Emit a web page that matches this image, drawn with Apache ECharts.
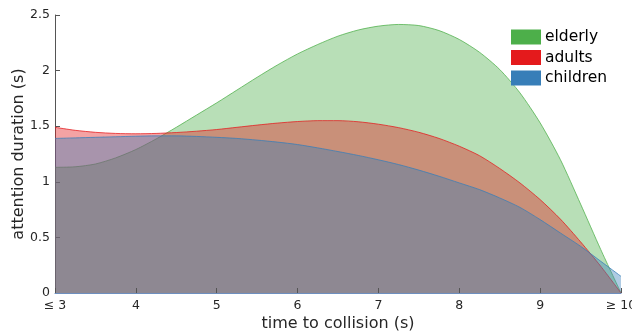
<!DOCTYPE html>
<html>
<head>
<meta charset="utf-8">
<script src="https://cdn.jsdelivr.net/npm/echarts@6/dist/echarts.min.js"></script>
<style>html,body{margin:0;padding:0;background:#fff}#c{width:632px;height:333px}</style>
</head>
<body>
<div id="c"></div>
<script>
const xValues = [3,3.25,3.5,3.75,4,4.25,4.5,4.75,5,5.25,5.5,5.75,6,6.25,6.5,6.75,7,7.25,7.5,7.75,8,8.25,8.5,8.75,9,9.25,9.5,9.75,10];
const elderly = [1.13,1.135,1.16,1.215,1.29,1.385,1.49,1.60,1.71,1.825,1.94,2.05,2.15,2.235,2.31,2.365,2.40,2.415,2.405,2.36,2.28,2.165,2.01,1.80,1.53,1.20,0.80,0.39,0];
const adults = [1.49,1.463,1.445,1.435,1.432,1.435,1.443,1.455,1.47,1.49,1.51,1.528,1.542,1.55,1.55,1.54,1.518,1.487,1.445,1.39,1.32,1.235,1.12,0.99,0.84,0.665,0.46,0.24,0];
const children = [1.39,1.395,1.40,1.405,1.41,1.413,1.413,1.408,1.40,1.39,1.375,1.357,1.335,1.305,1.272,1.237,1.198,1.155,1.105,1.05,0.99,0.93,0.855,0.77,0.66,0.54,0.42,0.285,0.15];
const seriesNames = ['elderly','adults','children'];
const seriesColors = ['#4daf4a','#e41a1c','#377eb8'];
const xTickLabels = {3:'≤ 3',10:'≥ 10'};
const yTickValues = [0,0.5,1,1.5,2,2.5];

const dataSets = [elderly, adults, children];
const FONT = 'DejaVu Sans';
const chart = echarts.init(document.getElementById('c'), null, {renderer:'canvas'});
chart.setOption({
  animation:false,
  textStyle:{fontFamily:FONT},
  grid:{left:55,right:11,top:15,bottom:40,containLabel:false,outerBoundsMode:'none'},
  legend:{
    orient:'vertical', left:511, top:29, padding:0, itemWidth:30, itemHeight:15, itemGap:4.5,
    icon:'rect',
    textStyle:{fontFamily:FONT,fontSize:15.5,color:'#000',padding:[0,0,0,-1]},
    data: seriesNames.map((n,i)=>({name:n,icon:'rect',itemStyle:{color:seriesColors[i],opacity:1,borderWidth:0}}))
  },
  xAxis:{
    type:'value', min:3, max:10, interval:1, z:5,
    name:'time to collision (s)', nameLocation:'middle', nameGap:23, nameMoveOverlap:false,
    nameTextStyle:{fontFamily:FONT,fontSize:16,color:'#262626'},
    axisLine:{show:true,lineStyle:{color:'#6d8fbf',width:1}},
    axisTick:{show:true,inside:true,length:5,lineStyle:{color:'#555'}},
    axisLabel:{fontFamily:FONT,fontSize:12.5,color:'#262626',margin:6,
      formatter:v=> (xTickLabels[v]!==undefined? xTickLabels[v] : String(v))},
    splitLine:{show:false}
  },
  yAxis:{
    type:'value', min:0, max:2.5, interval:0.5,
    name:'attention duration (s)', nameLocation:'middle', nameGap:28, nameMoveOverlap:false,
    nameTextStyle:{fontFamily:FONT,fontSize:16,color:'#262626'},
    axisLine:{show:true,lineStyle:{color:'#555',width:1}},
    axisTick:{show:true,inside:true,length:5,lineStyle:{color:'#555'}},
    axisLabel:{fontFamily:FONT,fontSize:12.5,color:'#262626',margin:5,
      formatter:v=> yTickValues.includes(v)? String(v):''},
    splitLine:{show:false}
  },
  series: seriesNames.map((n,i)=>({
    name:n, type:'line', smooth:0.25, symbol:'none',
    data: xValues.map((x,j)=>[x,dataSets[i][j]]),
    itemStyle:{color:seriesColors[i]},
    lineStyle:{color:seriesColors[i],width:1,opacity:0.75},
    areaStyle:{color:seriesColors[i],opacity:0.4},
    z:2+i
  }))
});
</script>
</body>
</html>
